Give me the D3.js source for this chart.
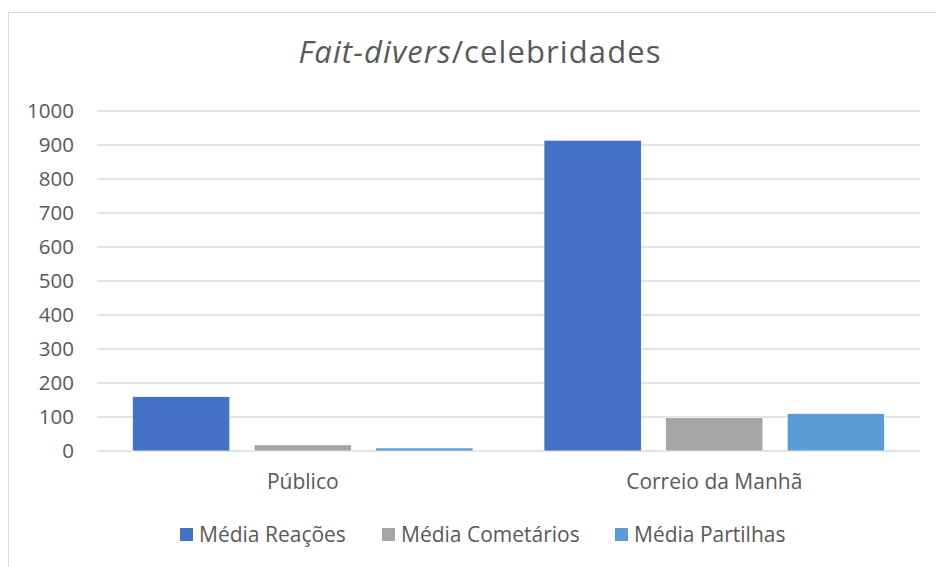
<!DOCTYPE html>
<html>
<head>
<meta charset="utf-8">
<script src="https://cdn.jsdelivr.net/npm/d3@7"></script>
<style>
body{margin:0;background:#fff;}
text{font-family:"Open Sans",Lato,sans-serif;fill:#595959;}
</style>
</head>
<body>
<script>
// data
const categories=["Público","Correio da Manhã"];
const seriesNames=["Média Reações","Média Cometários","Média Partilhas"];
const reacoes=[160,914];
const comentarios=[18,98];
const partilhas=[9,110];
const yTicks=[0,100,200,300,400,500,600,700,800,900,1000];
const colors=["#4472C4","#A5A5A5","#5B9BD5"];

const w=936,h=567;
const plotLeft=97,plotRight=920,plotTop=111,plotBottom=451;

const svg=d3.select("body").append("svg")
  .attr("width",w).attr("height",h);

//border
svg.append("rect")
  .attr("x",8.5).attr("y",12.5)
  .attr("width",w-8).attr("height",h-12)
  .attr("fill","white").attr("stroke","#D9D9D9");

//title
const title=svg.append("text")
  .attr("x",480).attr("y",63)
  .attr("text-anchor","middle")
  .style("font-size","31px")
  .style("letter-spacing","1.1px");
title.append("tspan").style("font-style","italic").text("Fait-divers");
title.append("tspan").text("/celebridades");

//scales
const x0=d3.scaleBand().domain(categories).range([plotLeft,plotRight]);
const x1=d3.scaleBand().domain(seriesNames)
  .range([35.5,x0.bandwidth()-35.5]).paddingInner(0.2);
const y=d3.scaleLinear().domain([0,1000]).range([plotBottom,plotTop]);

//grid
svg.append("g").selectAll("line")
  .data(yTicks).enter().append("line")
  .attr("x1",plotLeft).attr("x2",plotRight)
  .attr("y1",d=>y(d)).attr("y2",d=>y(d))
  .attr("stroke","#D9D9D9").attr("stroke-width",1.3);

//y axis labels
const yAxis=d3.axisLeft(y).tickValues(yTicks).tickFormat(d=>d).tickSize(0).tickPadding(0);
const ga=svg.append("g").attr("transform","translate(74,0)").call(yAxis);
ga.select(".domain").remove();
ga.selectAll("text").style("font-size","20.5px").attr("fill","#595959");

//bars
const rows=categories.map((c,i)=>({cat:c,vals:[reacoes[i],comentarios[i],partilhas[i]]}));
const groups=svg.selectAll(".grp").data(rows).enter().append("g")
  .attr("class","grp")
  .attr("transform",d=>"translate("+x0(d.cat)+",0)");
groups.selectAll("rect")
  .data(d=>d.vals.map((v,j)=>({name:seriesNames[j],v:v,c:colors[j]})))
  .enter().append("rect")
  .attr("x",d=>x1(d.name))
  .attr("width",x1.bandwidth())
  .attr("y",d=>y(d.v))
  .attr("height",d=>y(0)-y(d.v))
  .attr("fill",d=>d.c)
  .attr("stroke","white").attr("stroke-width",0.7);

//category labels
const xAxis=d3.axisBottom(x0).tickSize(0).tickPadding(0);
const gx=svg.append("g").attr("transform","translate(0,474)").call(xAxis);
gx.select(".domain").remove();
gx.selectAll("text").style("font-size","21px").attr("fill","#595959");

//legend
const legX=[180,382,615];
const leg=svg.append("g");
seriesNames.forEach((n,i)=>{
  leg.append("rect").attr("x",legX[i]).attr("y",528)
    .attr("width",13).attr("height",13).attr("fill",colors[i]);
  leg.append("text").attr("x",legX[i]+19).attr("y",542)
    .style("font-size","21px").text(n);
});
</script>
</body>
</html>
